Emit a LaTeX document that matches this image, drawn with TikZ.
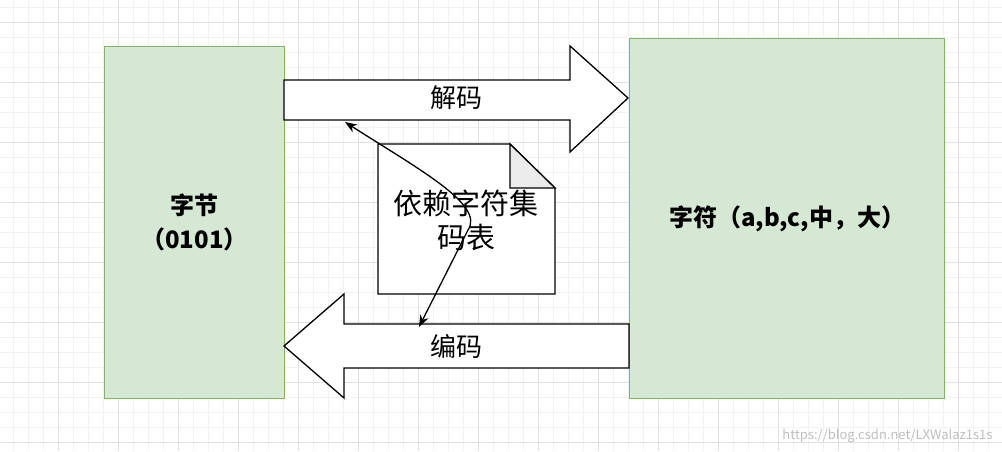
\documentclass[tikz,border=0pt]{standalone}
\usepackage{fontspec}
\setmainfont{Noto Sans CJK SC}
\usetikzlibrary{arrows.meta}
\begin{document}
\begin{tikzpicture}[x=1pt,y=-1pt,
  boxc/.style={draw={rgb,255:red,130;green,179;blue,102},fill={rgb,255:red,213;green,232;blue,212},line width=1.2pt},
  arr/.style={draw=black,fill=white,line width=1.3pt},
  lbl/.style={font=\fontsize{26}{30}\selectfont,inner sep=0pt}]
\useasboundingbox (0,0) rectangle (1002,451);
\fill[white] (0,0) rectangle (1002,451);
\foreach \i in {13,28,...,1002} \draw[black!5,line width=1pt] (\i,0) -- (\i,451);
\foreach \i in {7,22,...,451} \draw[black!5,line width=1pt] (0,\i) -- (1002,\i);
\foreach \i in {58,118,...,1002} \draw[black!12,line width=1pt] (\i,0) -- (\i,451);
\foreach \i in {22,82,...,451} \draw[black!12,line width=1pt] (0,\i) -- (1002,\i);
\node[boxc,minimum width=180,minimum height=352,anchor=north west,align=center,font=\fontsize{24}{34}\selectfont\bfseries] (bytes) at (104,46) {字节\\（0101）};
\node[boxc,minimum width=315,minimum height=360,anchor=north west,font=\fontsize{24}{30}\selectfont\bfseries] (chars) at (629,38) {字符（a,b,c,中，大）};
\draw[arr] (284,80) -- (570,80) -- (570,46) -- (628,98) -- (570,152) -- (570,120) -- (284,120) -- cycle;
\node[lbl] (dec) at (456,98) {解码};
\draw[arr] (629,324) -- (344,324) -- (344,294) -- (284,346) -- (344,398) -- (344,368) -- (629,368) -- cycle;
\node[lbl] (enc) at (456,346) {编码};
\draw[arr] (378,144) -- (510,144) -- (555,188) -- (555,294) -- (378,294) -- cycle;
\draw[line width=1.3pt,fill=black!8] (510,144) -- (555,188) -- (510,188) -- cycle;
\node[align=center,font=\fontsize{29}{34}\selectfont,inner sep=0pt] (note) at (466,220) {依赖字符集\\码表};
\coordinate (a1) at (345,122);
\coordinate (a2) at (419,327);
\draw[line width=1.3pt,{Stealth[length=12pt,width=9pt]}-{Stealth[length=12pt,width=9pt]}] (a1) .. controls (420,170) and (485,205) .. (468,230) -- (a2);
\node[anchor=south east,text=black!25,font=\fontsize{13}{15}\selectfont] (wm) at (996,446) {https://blog.csdn.net/LXWalaz1s1s};
\end{tikzpicture}
\end{document}
